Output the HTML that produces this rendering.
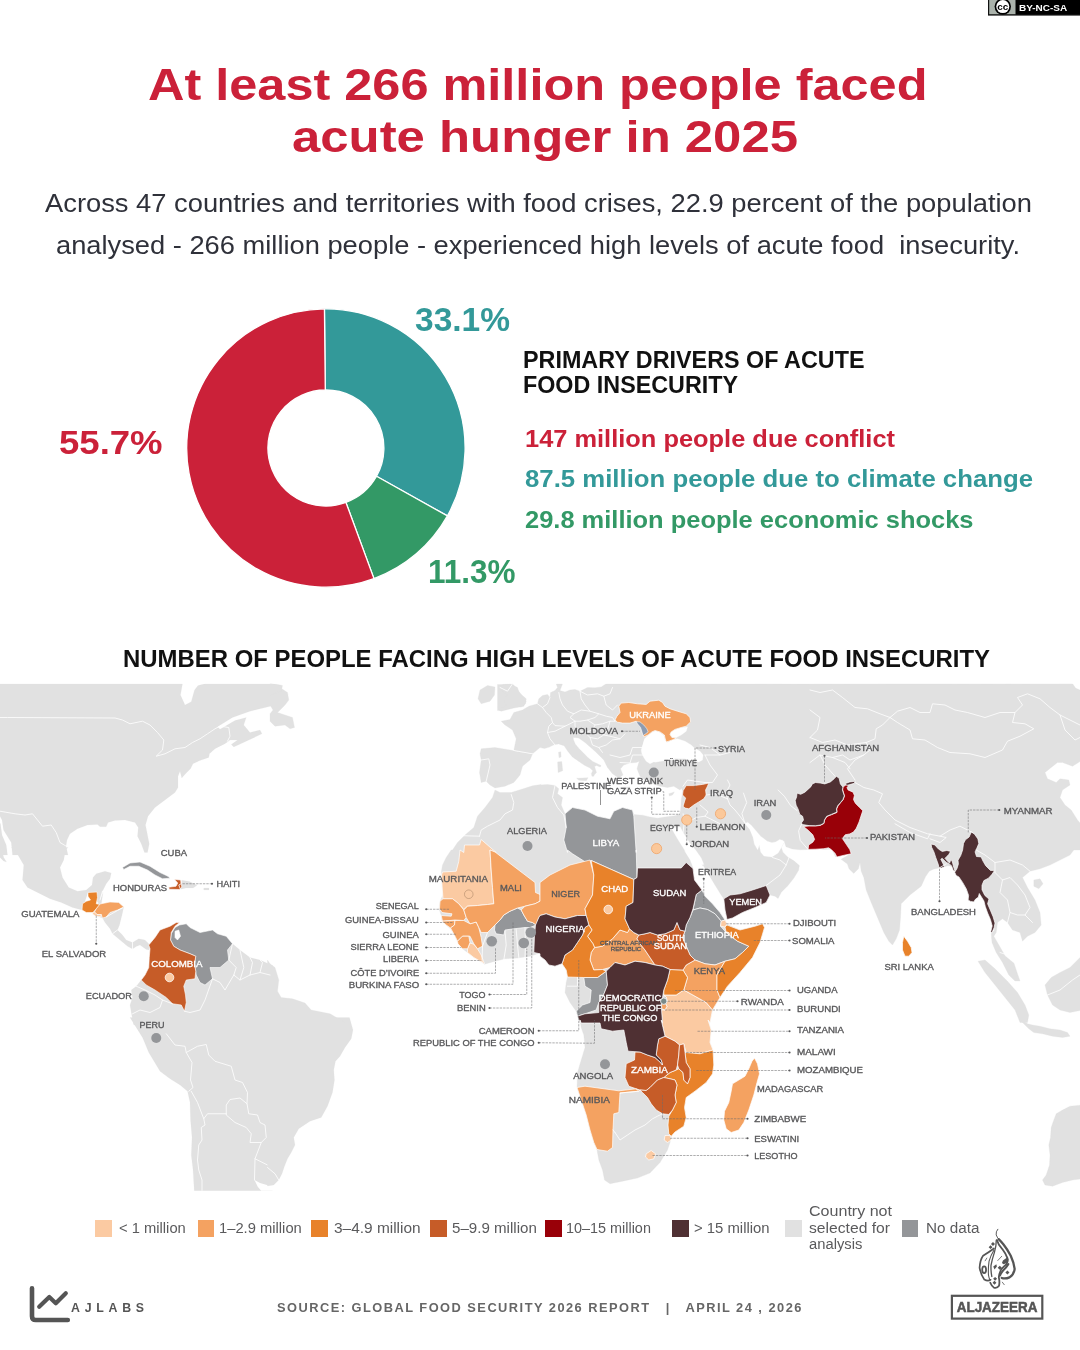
<!DOCTYPE html>
<html lang="en"><head><meta charset="utf-8"><title>At least 266 million people faced acute hunger in 2025</title>
<style>
html,body{margin:0;padding:0;background:#fff}
body{width:1080px;height:1350px;position:relative;overflow:hidden;font-family:"Liberation Sans", sans-serif;-webkit-font-smoothing:antialiased}
#page{position:absolute;left:0;top:0;width:1080px;height:1350px;will-change:transform;transform:translateZ(0)}
.t{position:absolute;white-space:pre;line-height:1;transform-origin:0 0;margin:0}
.sw{position:absolute;top:1220.1px;width:16.6px;height:16.5px}
svg{position:absolute;left:0;top:0}
svg text{font-family:"Liberation Sans", sans-serif}
</style></head><body><div id="page">
<svg width="1080" height="1350" viewBox="0 0 1080 1350">
<defs><clipPath id="mapclip"><rect x="0" y="683.7" width="1080" height="507"/></clipPath></defs>
<style>
.land{fill:#e1e1e1;stroke:#e1e1e1;stroke-width:.6}
.nodata{fill:#949699;stroke:#fff;stroke-width:2.4;stroke-linejoin:round}
.c1{fill:#fbcaa2;stroke:#fff;stroke-width:2.4;stroke-linejoin:round}
.c2{fill:#f4a261;stroke:#fff;stroke-width:2.4;stroke-linejoin:round}
.c3{fill:#e8822a;stroke:#fff;stroke-width:2.4;stroke-linejoin:round}
.c4{fill:#c65c28;stroke:#fff;stroke-width:2.4;stroke-linejoin:round}
.c5{fill:#990008;stroke:#fff;stroke-width:2.4;stroke-linejoin:round}
.c6{fill:#4f3033;stroke:#fff;stroke-width:2.4;stroke-linejoin:round}
.bd{fill:none;stroke:#fff;stroke-width:3.6;stroke-linejoin:round;stroke-linecap:round;opacity:.9}
.sea{fill:#fff;stroke:none}
.landg{fill:#e1e1e1;stroke:#e1e1e1;stroke-width:.3}
.seag{fill:#fff;stroke:#fff;stroke-width:.3}
.nodatag{fill:#949699;stroke:#fff;stroke-width:.7;stroke-linejoin:round}
.c1g{fill:#fbcaa2;stroke:#fff;stroke-width:.7;stroke-linejoin:round}
.c2g{fill:#f4a261;stroke:#fff;stroke-width:.7;stroke-linejoin:round}
.c3g{fill:#e8822a;stroke:#fff;stroke-width:.7;stroke-linejoin:round}
.c4g{fill:#c65c28;stroke:#fff;stroke-width:.7;stroke-linejoin:round}
.c5g{fill:#990008;stroke:#fff;stroke-width:.7;stroke-linejoin:round}
.c6g{fill:#4f3033;stroke:#fff;stroke-width:.7;stroke-linejoin:round}
.moldg{fill:#8d9bb0;stroke:#fff;stroke-width:.5;stroke-linejoin:round}
.bdg{fill:none;stroke:#fff;stroke-width:.9;stroke-linejoin:round;stroke-linecap:round;opacity:.9}
</style>
<g clip-path="url(#mapclip)">
<!-- tile origin (0,1020) scale .25 : South America west -->
<g class="land" transform="translate(0,1020) scale(.25)">
<path d="M520 -10 L545 30 L570 70 L595 130 L625 180 L640 205 L680 235 L720 260 L750 285 L760 330 L762 400 L768 470 L765 540 L772 600 L778 700 L1090 700 L1090 -10Z"/>
</g>
<g class="sea" transform="translate(0,1020) scale(.25)"><path d="M1018 640 L1040 652 L1071 661 L1098 650 L1100 705 L1048 705 L1044 682 L1031 667Z"/></g>
<g class="bd" transform="translate(0,1020) scale(.25)">
<path d="M665 55 L700 100 L740 105 L745 130 L790 105 L825 98 L835 140 L860 165 L925 185 L940 240 L970 250 L990 290 L988 335 L995 375 L1030 380 L1040 410 L1060 420 L1065 470 L1045 490 L1000 490 L1005 455 L985 430 L940 410 L905 380 L905 340 L920 318 L960 312 L988 335"/>
<path d="M745 130 L768 170 L762 240 L772 270 L755 285"/>
<path d="M765 285 L790 330 L815 395 L830 375 L905 375"/>
<path d="M815 395 L820 420 L805 430 L808 480 L795 500 L790 560 L795 600 L808 640 L808 690"/>
<path d="M1045 490 L1020 555 L1018 640"/>
<path d="M1020 555 L1090 590"/>
</g>

<!-- tile origin (0,680) scale .25 : North America -->
<g class="land" transform="translate(0,680) scale(.25)">
<path d="M-10 15 L730 15 L722 60 L740 100 L765 87 L778 40 L792 22 L820 15 L1090 15 L1090 103 L1000 125 L930 150 L870 187 L880 197 L940 162 L985 150 L975 180 L1000 210 L1040 200 L1048 215 L1000 238 L935 268 L925 258 L950 240 L920 240 L900 255 L860 275 L838 295 L835 310 L800 322 L772 335 L762 355 L742 375 L727 392 L720 365 L712 385 L712 430 L700 450 L660 480 L620 510 L592 545 L582 580 L590 620 L597 655 L590 690 L578 690 L565 655 L550 625 L553 590 L540 570 L500 560 L460 562 L432 570 L425 587 L400 587 L390 578 L350 580 L310 595 L280 615 L268 640 L264 665 L272 700 L50 700 L45 650 L14 600 L8 560 L0 545 L-10 545 Z"/>
<path d="M-10 560 L2 575 L8 620 L25 660 L30 700 L-10 700Z"/>
</g>

<!-- tile origin (0,850) scale .25 : Central America / Caribbean / N South America -->
<g class="land" transform="translate(0,850) scale(.25)">
<!-- Baja tip -->
<path d="M-10 -10 L5 -10 L15 30 L26 48 L14 44 L-10 20Z"/>
<!-- Mexico -->
<path d="M45 -10 L272 -10 L262 0 L255 40 L240 70 L250 110 L275 150 L310 165 L345 160 L368 140 L372 110 L385 95 L420 85 L445 92 L440 115 L425 135 L410 165 L400 200 L400 218 L352 170 L328 240 L290 230 L245 210 L200 195 L150 170 L110 150 L90 120 L95 60 L60 0Z"/>
<!-- Belize + rest of central america -->
<path d="M400 200 L412 170 L405 218 L440 208 L475 210 L495 228 L488 260 L478 300 L470 320 L490 340 L505 360 L530 370 L555 355 L580 360 L600 380 L597 400 L585 398 L560 380 L545 386 L530 396 L510 385 L480 360 L450 335 L440 315 L420 290 L410 272 L380 262 L372 250Z"/>
<!-- Dominican Rep -->
<path d="M723 120 L758 126 L788 141 L773 152 L744 152 L719 158 L727 148Z"/>
<path d="M815 152 L836 152 L836 160 L815 160Z"/>
<!-- South America north -->
<path d="M565 520 L545 545 L525 560 L530 590 L520 620 L525 650 L535 700 L1090 700 L1090 462 L1040 440 L1000 430 L960 400 L930 375 L800 400 L700 500Z"/>
</g>
<g class="nodata" transform="translate(0,850) scale(.25)">
<path d="M490 70 L520 52 L560 48 L600 65 L640 90 L672 105 L680 113 L650 115 L620 100 L590 80 L555 65 L520 65 L495 78Z"/>
<path d="M718 300 L745 295 L760 310 L800 330 L850 320 L870 335 L905 345 L930 375 L910 400 L915 440 L880 470 L840 470 L850 515 L820 540 L800 530 L785 500 L783 485 L778 455 L783 425 L760 415 L720 400 L695 385 L682 360 L685 335 L700 310Z M700 325 L715 320 L722 345 L710 360 L700 350Z" fill-rule="evenodd"/>
</g>
<g class="c3" transform="translate(0,850) scale(.25)"><!-- Guatemala 3-4.9 -->
<path d="M352 170 L388 168 L390 190 L385 215 L400 218 L385 235 L372 250 L345 250 L328 240 L330 215 L345 205 L362 200 L352 185Z"/>
</g>
<g class="c2" transform="translate(0,850) scale(.25)"><!-- Honduras 1-2.9 -->
<path d="M400 216 L440 208 L475 210 L495 228 L470 240 L440 250 L425 268 L410 272 L405 258 L388 258 L378 248 L385 235Z"/>
</g>
<g class="c1" transform="translate(0,850) scale(.25)"><!-- El Salvador -->
<path d="M372 250 L378 248 L388 258 L405 258 L402 266 L382 264 L370 256Z"/>
</g>
<g class="c4" transform="translate(0,850) scale(.25)"><!-- Haiti, Colombia 5-9.9 -->
<path d="M698 118 L723 120 L727 148 L719 158 L677 157 L675 149 L704 145 L711 132Z"/>
<path d="M718 290 L700 305 L685 330 L682 360 L695 385 L720 400 L760 415 L783 425 L778 455 L783 485 L780 515 L745 520 L735 545 L742 580 L745 610 L738 645 L725 620 L690 615 L665 590 L620 560 L585 540 L565 520 L580 500 L595 470 L597 430 L600 395 L595 380 L620 350 L640 320 L680 305 L705 290Z"/>
</g>

<!-- tile origin (270,1020) scale .25 : Brazil east coast -->
<g class="land" transform="translate(270,1020) scale(.25)">
<path d="M-10 -10 L318 -10 L332 40 L325 75 L300 110 L280 145 L262 165 L255 200 L258 240 L250 290 L230 345 L205 390 L160 405 L115 435 L95 470 L100 500 L85 530 L70 555 L58 585 L48 615 L35 640 L15 660 L-10 664Z"/>
</g>
<g class="bd" transform="translate(270,1020) scale(.25)">
<path d="M-10 590 L20 615 L35 640"/>
</g>

<g class="landg"><path d="M495.0 790.0 L500.0 792.5 L511.2 792.5 L522.5 789.0 L532.5 785.8 L541.2 784.5 L540.0 785.0 L547.5 784.5 L555.0 785.5 L558.8 788.8 L557.5 793.8 L562.5 797.5 L561.2 805.0 L565.0 813.8 L572.5 807.5 L585.0 810.0 L597.5 816.2 L610.0 818.8 L613.8 811.2 L622.5 807.5 L632.5 810.0 L633.8 814.5 L642.5 815.2 L650.0 817.0 L657.5 818.2 L665.0 817.0 L675.0 815.8 L681.2 814.5 L683.8 823.8 L687.5 835.0 L690.0 845.0 L688.0 852.5 L683.8 850.0 L690.0 860.0 L693.0 868.0 L694.5 880.0 L702.0 890.0 L705.0 896.2 L712.5 903.8 L720.0 912.5 L725.0 920.0 L727.0 924.2 L740.0 930.0 L755.0 926.2 L762.5 923.8 L764.5 927.5 L760.0 942.5 L752.5 957.5 L740.0 972.5 L727.5 986.2 L720.0 997.5 L712.5 1010.0 L710.0 1022.5 L708.0 1020.0 L711.2 1030.0 L710.0 1042.5 L713.0 1050.0 L713.8 1065.0 L712.5 1073.8 L706.2 1082.5 L695.0 1091.2 L686.2 1097.5 L684.5 1107.5 L686.2 1117.5 L683.8 1126.2 L675.0 1132.0 L671.2 1136.2 L670.0 1142.5 L667.5 1150.0 L660.0 1162.5 L650.0 1173.0 L637.5 1178.0 L622.5 1181.2 L610.0 1183.8 L604.5 1180.0 L602.5 1170.0 L598.8 1160.0 L597.0 1150.0 L593.8 1142.5 L590.0 1130.0 L586.2 1115.0 L581.2 1100.0 L577.0 1087.5 L577.5 1072.5 L581.2 1060.0 L585.0 1047.5 L583.8 1035.0 L581.2 1027.5 L580.0 1020.0 L580.0 1022.5 L577.5 1016.2 L576.2 1011.2 L570.0 1002.5 L565.0 992.5 L566.2 982.5 L567.5 977.0 L566.2 970.0 L562.0 963.8 L555.0 966.2 L548.8 965.0 L545.0 960.0 L540.0 956.2 L540.0 953.0 L530.0 956.2 L517.5 958.0 L505.0 958.8 L495.0 961.2 L484.5 964.2 L482.0 962.5 L473.8 957.5 L467.5 952.5 L462.5 948.8 L458.0 943.0 L455.0 936.2 L451.2 929.5 L446.2 925.0 L442.0 921.2 L441.2 915.5 L439.0 908.8 L440.0 901.2 L443.0 895.0 L442.0 885.0 L441.2 872.5 L442.5 865.0 L446.2 857.5 L451.2 850.0 L452.5 850.0 L457.5 842.5 L465.0 835.0 L473.8 827.5 L477.5 816.2 L485.0 807.5 L492.5 797.5Z"/>
<path d="M513.8 750.5 L516.2 738.8 L512.5 730.0 L505.0 725.0 L501.2 721.2 L510.0 719.5 L513.8 712.5 L522.5 710.0 L528.8 706.2 L537.5 703.8 L538.8 698.8 L542.5 695.6 L547.5 694.4 L550.0 697.5 L550.6 692.5 L555.0 690.6 L557.5 687.5 L556.2 683.8 L562.5 683.8 L560.0 690.6 L565.0 691.9 L570.0 690.0 L575.0 689.4 L580.0 691.2 L587.5 687.5 L595.0 687.8 L601.2 686.9 L606.2 683.8 L635.0 683.8 L1072.5 683.5 L1075.5 688.0 L1082.5 691.2 L1082.5 760.0 L1072.5 766.2 L1062.5 762.5 L1057.5 762.5 L1051.2 767.5 L1045.0 772.5 L1047.5 778.8 L1056.2 782.5 L1060.0 778.8 L1068.8 780.0 L1070.0 785.0 L1062.5 790.0 L1060.0 797.5 L1065.0 805.0 L1071.2 810.0 L1077.5 820.0 L1082.5 826.2 L1082.5 850.0 L1073.8 850.0 L1070.0 855.0 L1060.0 860.0 L1050.0 865.0 L1040.0 868.8 L1030.0 871.2 L1022.5 877.5 L1027.5 887.5 L1035.0 900.0 L1040.0 912.5 L1041.2 925.0 L1035.0 932.5 L1027.5 936.2 L1022.5 941.2 L1020.0 932.5 L1012.5 930.0 L1007.5 922.5 L1002.5 918.8 L997.5 922.5 L996.2 932.5 L993.8 936.2 L999.2 945.5 L1005.2 956.0 L1014.0 963.2 L1017.0 972.2 L1020.0 981.0 L1015.0 981.0 L1008.8 975.0 L1002.5 962.5 L996.2 952.5 L992.0 942.5 L991.2 933.8 L994.5 930.0 L992.5 921.2 L988.0 910.0 L983.8 898.8 L980.0 893.8 L975.5 899.0 L973.8 901.8 L970.5 901.5 L968.2 900.0 L968.5 895.2 L966.2 889.0 L962.5 882.5 L959.0 876.8 L957.0 876.0 L955.2 871.8 L953.8 868.0 L951.5 866.2 L947.8 865.8 L944.5 866.8 L939.0 868.0 L934.0 869.0 L929.2 871.2 L925.5 876.8 L921.2 886.2 L910.0 895.0 L901.2 903.8 L900.5 917.5 L899.5 930.0 L896.2 938.8 L892.5 945.0 L888.8 941.2 L883.8 932.5 L877.5 917.5 L871.2 902.5 L866.2 890.0 L863.8 877.5 L861.2 871.2 L860.0 862.4 L858.4 868.7 L853.7 873.4 L849.0 868.7 L847.4 864.0 L841.1 859.3 L850.6 853.8 L841.1 855.3 L835.6 856.9 L831.7 849.0 L823.8 849.5 L815.9 848.6 L808.1 849.5 L800.2 849.8 L792.3 849.0 L786.0 846.7 L784.4 841.9 L781.3 847.5 L782.9 852.2 L787.6 856.9 L793.9 860.8 L799.4 865.6 L798.6 870.3 L793.9 878.1 L787.6 886.0 L781.3 892.3 L778.1 898.6 L775.0 896.2 L770.0 895.0 L766.2 902.5 L755.0 907.5 L742.5 912.5 L732.5 918.0 L727.0 919.5 L725.0 910.0 L723.8 898.8 L721.2 895.0 L715.0 885.0 L707.5 872.5 L700.0 860.0 L692.5 850.0 L703.1 866.2 L700.0 861.2 L693.8 854.4 L687.5 846.2 L684.0 840.0 L683.2 832.5 L682.2 832.5 L681.9 842.5 L680.0 840.0 L675.6 830.0 L673.8 829.4 L677.5 814.4 L679.8 813.8 L680.6 810.0 L681.0 805.0 L681.2 800.0 L682.2 795.0 L682.5 791.2 L681.2 787.5 L692.0 770.0 L650.0 742.0 L600.0 735.0 L584.4 740.2 L579.8 737.9 L573.3 737.4 L573.3 739.3 L575.2 743.9 L578.9 748.5 L583.5 753.1 L588.1 757.8 L592.8 761.5 L597.4 763.8 L601.1 765.6 L600.2 767.0 L596.5 765.6 L594.6 766.6 L595.6 769.8 L596.5 772.6 L594.6 774.4 L593.7 776.3 L591.9 776.3 L591.4 773.5 L592.8 770.7 L590.0 768.0 L584.4 765.2 L578.9 761.5 L572.4 756.9 L567.8 751.3 L564.1 745.7 L558.5 743.9 L553.9 744.8 L549.3 747.1 L544.6 748.5 L540.0 747.6 L532.5 753.8 L522.5 752.5Z"/>
<path d="M481.2 748.8 L495.0 747.5 L510.0 750.0 L522.5 752.5 L532.5 753.8 L530.0 760.0 L522.5 766.2 L520.0 775.0 L513.8 782.5 L505.0 786.2 L495.0 788.0 L490.0 785.0 L486.2 781.2 L481.2 782.5 L479.5 772.5 L481.2 760.0 L480.0 753.8Z"/>
<path d="M576.2 736.2 L585.0 742.5 L595.0 751.2 L603.8 760.0 L607.5 767.5 L612.5 773.8 L618.8 778.0 L623.0 775.0 L620.5 768.8 L623.8 765.0 L630.0 763.0 L636.2 762.5 L641.2 760.5 L643.0 755.0 L642.0 747.5 L645.0 737.5 L630.0 730.0 L605.0 725.0 L580.0 727.5Z"/>
<path d="M638.8 762.5 L637.0 768.8 L640.0 776.2 L645.0 780.0 L652.5 783.8 L660.0 786.2 L667.5 787.5 L673.8 786.2 L680.0 790.0 L683.0 786.2 L685.5 780.0 L687.5 790.0 L717.5 792.5 L717.5 755.0 L705.0 755.0 L700.0 760.0 L685.0 762.5 L670.0 760.0 L655.0 762.5 L642.5 755.0 L640.0 759.5Z"/>
<path d="M500.0 684.4 L512.5 683.8 L517.5 690.0 L521.9 695.0 L526.2 698.8 L525.6 703.8 L521.2 706.9 L515.0 706.2 L507.5 708.1 L500.0 710.6 L497.5 710.6 L497.5 684.4Z"/>
<path d="M501.2 685.0 L510.0 683.8 L517.5 687.5 L520.0 695.0 L526.2 701.2 L523.8 706.2 L513.8 708.0 L501.2 711.2 L498.8 710.0 L506.2 705.0 L503.8 700.0 L507.5 695.0 L502.5 691.2Z"/>
<path d="M480.0 690.0 L487.5 685.5 L495.0 687.0 L494.5 695.0 L490.0 701.2 L481.2 703.8 L478.0 698.8Z"/>
<path d="M270.0 685.0 L280.0 687.5 L287.5 692.5 L288.8 700.0 L285.0 705.0 L277.5 712.5 L285.0 715.0 L292.5 717.5 L294.5 727.5 L290.0 728.8 L285.0 725.0 L275.0 726.2 L270.0 721.2 L270.0 713.8 L273.0 710.0 L270.0 705.0Z"/>
<path d="M270.0 683.0 L282.5 685.5 L281.2 691.2 L270.0 695.0Z"/>
<path d="M558.5 752.2 L560.8 751.8 L561.1 756.9 L559.0 757.8Z"/>
<path d="M557.6 761.9 L561.8 761.5 L562.7 770.7 L558.1 772.6Z"/>
<path d="M576.6 778.3 L588.1 777.7 L586.3 780.7 L578.9 780.2Z"/>
<path d="M620.0 787.5 L630.0 786.9 L630.0 788.8 L620.0 789.0Z"/>
<path d="M668.8 793.8 L674.4 791.9 L672.5 795.0 L669.4 796.0Z"/>
<path d="M1033.8 880.0 L1040.0 878.8 L1043.0 883.8 L1038.8 888.8 L1033.8 886.2Z"/>
<path d="M978.0 961.2 L985.0 960.0 L995.0 968.8 L1007.5 981.2 L1017.5 992.5 L1025.0 1005.0 L1028.8 1015.0 L1027.5 1022.5 L1020.0 1022.5 L1015.0 1010.0 L1005.0 997.5 L995.0 985.0 L985.0 972.5Z"/>
<path d="M1045.0 985.0 L1051.2 977.5 L1060.0 972.5 L1070.0 967.5 L1082.5 955.0 L1082.5 1010.0 L1070.0 1012.5 L1060.0 1010.0 L1052.5 1005.0 L1047.5 995.0Z"/>
<path d="M1020.0 1018.8 L1027.5 1023.8 L1032.5 1025.0 L1040.0 1026.2 L1050.0 1028.8 L1060.0 1030.0 L1067.5 1032.5 L1070.0 1036.2 L1062.5 1037.5 L1052.5 1036.2 L1042.5 1033.8 L1033.8 1032.5 L1028.8 1028.8 L1022.5 1022.5Z"/>
<path d="M1082.5 1105.0 L1070.0 1106.2 L1062.5 1110.0 L1056.2 1113.8 L1053.8 1120.0 L1051.2 1127.5 L1050.5 1137.5 L1048.8 1145.0 L1050.0 1155.0 L1049.5 1165.0 L1046.2 1175.0 L1042.5 1180.0 L1045.0 1185.0 L1052.5 1186.2 L1062.5 1182.5 L1072.5 1180.0 L1082.5 1178.8Z"/>
<path d="M267.5 960.0 L270.0 963.8 L275.0 967.5 L278.8 980.0 L277.5 991.2 L281.2 997.5 L292.5 998.8 L305.0 1003.0 L311.2 1010.0 L330.0 1013.8 L345.0 1022.5 L267.5 1022.5Z"/></g>
<g class="seag"><path d="M641.2 750.0 L643.1 743.8 L644.4 738.8 L648.1 735.6 L652.5 731.9 L655.6 731.0 L660.0 732.5 L663.8 735.6 L665.0 740.0 L666.9 742.5 L672.5 740.0 L677.5 738.8 L685.0 741.2 L691.2 745.0 L694.4 748.1 L700.0 751.2 L703.1 755.0 L702.5 760.0 L698.8 761.9 L691.2 760.6 L685.0 758.8 L677.5 758.8 L670.0 758.1 L662.5 758.8 L655.0 761.2 L650.0 763.8 L646.2 761.2 L643.8 757.5 L641.9 753.8Z"/>
<path d="M745.1 823.8 L749.8 829.4 L753.0 837.2 L754.5 844.3 L757.7 849.8 L759.3 845.1 L760.8 852.2 L764.0 856.1 L771.9 856.9 L778.1 853.0 L781.3 847.5 L784.4 841.9 L782.9 840.4 L779.7 839.6 L775.8 841.9 L771.9 842.7 L767.1 841.2 L760.8 836.4 L756.1 830.9 L751.4 825.4 L747.5 822.3Z"/>
<path d="M670.0 827.0 L673.1 827.5 L676.2 827.5 L680.2 827.0 L683.1 832.5 L689.4 842.5 L695.6 850.0 L701.2 858.1 L703.8 864.4 L693.8 864.4 L688.8 856.2 L683.8 848.8 L677.5 838.8 L672.5 830.0Z"/>
<path d="M671.2 731.9 L675.0 729.8 L681.2 727.8 L687.5 726.9 L686.2 731.2 L681.2 735.0 L676.2 737.5 L672.5 737.2 L670.2 734.4Z"/></g>
<g class="nodatag"><path d="M495.0 925.0 L500.0 920.0 L503.8 915.0 L510.0 911.2 L517.5 908.0 L521.2 910.0 L523.8 915.0 L527.5 921.2 L532.5 922.5 L536.2 925.0 L530.0 927.5 L525.0 927.5 L513.8 928.8 L505.0 930.0 L503.8 935.0 L496.2 933.8 L494.5 930.0Z"/>
<path d="M565.0 813.8 L572.5 807.5 L585.0 810.0 L597.5 816.2 L610.0 818.8 L613.8 811.2 L622.5 807.5 L632.5 810.0 L633.8 816.2 L636.2 852.5 L636.2 850.0 L637.0 877.5 L633.8 879.5 L591.2 860.5 L586.2 862.5 L572.5 853.8 L567.5 850.0 L567.5 852.5 L563.8 840.0 L566.2 827.5Z"/>
<path d="M702.0 890.0 L705.0 896.2 L712.5 903.8 L720.0 912.5 L725.0 920.0 L721.2 921.2 L715.0 913.8 L707.5 909.5 L700.0 908.0 L693.0 910.0 L696.2 894.5Z"/>
<path d="M693.0 910.0 L700.0 908.0 L707.5 909.5 L715.0 913.8 L721.2 921.2 L720.5 926.2 L726.2 932.5 L737.5 941.2 L748.8 946.2 L742.5 952.5 L735.0 958.8 L725.0 961.2 L715.0 965.0 L705.0 963.8 L695.0 960.0 L690.0 955.0 L686.2 946.2 L682.5 937.5 L685.0 931.2 L686.2 925.0 L690.0 917.5Z"/>
<path d="M597.5 977.5 L606.2 971.2 L607.5 985.0 L602.5 997.5 L598.8 1002.5 L596.2 1010.0 L585.0 1013.8 L577.5 1016.2 L576.2 1011.2 L582.5 1005.0 L590.0 1002.5 L591.2 990.0 L585.0 986.2 L583.8 977.5Z"/>
<path d="M662.0 997.5 L666.2 997.0 L667.5 1001.2 L663.8 1003.0 L661.5 1001.2Z"/></g>
<g class="c1g"><path d="M463.8 852.5 L464.5 845.0 L479.5 845.0 L481.2 839.5 L496.2 852.5 L490.0 850.0 L491.2 870.0 L492.5 887.5 L493.8 903.8 L487.5 904.5 L477.5 905.5 L467.5 906.2 L463.8 909.5 L458.8 903.8 L452.5 898.8 L443.0 898.8 L442.0 885.0 L441.5 875.0 L442.5 872.0 L456.2 871.2 L458.8 861.2 L460.0 850.0Z"/>
<path d="M467.5 948.8 L470.0 943.0 L473.8 944.2 L477.5 948.8 L481.2 955.0 L484.5 963.8 L473.8 957.5 L467.5 952.5Z"/>
<path d="M721.2 921.2 L725.0 920.0 L727.0 923.8 L725.0 927.0 L720.5 926.2Z"/>
<path d="M663.8 995.0 L676.2 995.0 L683.8 990.0 L695.0 996.2 L706.2 1002.5 L712.5 1010.0 L710.0 1022.5 L708.0 1020.0 L711.2 1030.0 L710.0 1042.5 L713.0 1050.0 L700.0 1053.8 L686.2 1052.5 L683.8 1043.8 L679.5 1045.0 L675.0 1041.2 L665.0 1036.2 L663.0 1027.5 L661.2 1020.0 L662.5 1022.5 L661.2 1010.0 L665.0 1010.0 L667.0 1006.2 L665.0 1003.0 L667.5 1001.2 L666.2 997.0Z"/>
<path d="M665.0 1135.5 L670.0 1135.5 L671.2 1140.0 L667.5 1142.5 L664.2 1140.0Z"/>
<path d="M646.2 1153.8 L651.2 1150.5 L655.5 1153.8 L653.8 1158.8 L648.8 1160.0 L645.5 1157.0Z"/></g>
<g class="c2g"><path d="M443.0 898.8 L452.5 898.8 L458.8 903.8 L463.8 910.0 L466.2 917.5 L463.8 920.5 L455.0 920.0 L442.5 921.2 L441.2 915.5 L451.2 916.2 L452.0 913.8 L442.0 912.5 L439.5 908.8 L440.0 901.2Z"/>
<path d="M442.0 921.2 L455.0 920.5 L454.5 925.0 L450.5 928.0 L446.2 925.0Z"/>
<path d="M455.0 920.5 L463.8 920.5 L470.0 923.8 L476.2 922.0 L478.8 927.5 L481.2 937.5 L482.5 946.2 L477.5 948.8 L473.8 943.8 L470.0 936.2 L462.5 936.2 L457.5 941.2 L455.0 936.2 L450.5 928.0 L454.5 925.0Z"/>
<path d="M457.5 941.2 L462.5 936.2 L468.8 936.2 L470.0 942.5 L467.5 948.8 L462.5 948.8 L458.0 943.8Z"/>
<path d="M495.0 852.0 L535.0 882.5 L535.5 892.5 L540.0 894.5 L540.0 894.5 L540.0 901.2 L535.0 903.8 L525.0 906.2 L517.5 908.0 L510.0 911.2 L503.8 915.0 L500.0 920.0 L495.0 925.0 L487.5 932.5 L481.2 932.5 L478.8 927.5 L476.2 922.0 L470.0 923.8 L466.2 917.5 L463.8 910.0 L467.5 906.2 L477.5 905.5 L487.5 904.5 L493.8 903.8 L492.5 887.5 L491.2 870.0 L490.0 850.0Z"/>
<path d="M525.0 906.2 L535.0 903.8 L540.0 901.2 L540.0 882.5 L550.0 875.0 L570.0 865.0 L590.0 860.0 L593.8 875.0 L592.5 895.0 L585.0 908.8 L586.2 915.5 L577.5 915.5 L565.0 918.8 L555.0 917.0 L546.2 913.8 L540.0 915.5 L538.8 917.5 L536.2 925.0 L532.5 922.5 L527.5 921.2 L523.8 915.0 L521.2 910.0Z"/>
<path d="M686.2 965.0 L695.0 960.0 L705.0 963.8 L715.0 965.0 L725.0 961.2 L717.0 975.0 L717.0 990.0 L720.0 997.5 L712.5 1010.0 L706.2 1002.5 L695.0 996.2 L683.8 990.0 L687.5 977.5 L683.0 970.0Z"/>
<path d="M594.5 947.5 L602.5 946.2 L612.5 938.8 L620.0 930.0 L627.5 932.5 L629.5 928.8 L633.8 932.5 L638.8 935.0 L637.0 938.8 L640.0 943.8 L645.0 950.0 L650.0 957.5 L655.0 965.0 L645.0 962.5 L635.0 961.2 L625.0 965.0 L615.0 962.5 L610.0 967.5 L602.5 969.5 L593.8 970.0 L590.0 960.0 L591.2 952.5Z"/>
<path d="M661.5 1003.0 L665.0 1003.0 L667.0 1006.2 L665.0 1010.0 L661.8 1008.8Z"/>
<path d="M577.0 1087.5 L585.0 1086.2 L618.8 1090.8 L636.2 1088.8 L640.0 1090.0 L638.8 1091.2 L620.0 1093.0 L618.8 1112.5 L613.8 1113.8 L613.0 1130.0 L612.5 1147.5 L607.5 1151.2 L600.0 1150.0 L597.0 1149.5 L593.8 1142.5 L590.0 1130.0 L586.2 1115.0 L581.2 1100.0Z"/>
<path d="M754.5 1058.0 L757.5 1063.8 L759.5 1073.8 L757.0 1082.5 L753.8 1095.0 L748.8 1110.0 L743.8 1122.5 L738.8 1130.0 L731.2 1132.5 L726.2 1128.8 L723.8 1120.0 L724.5 1111.2 L728.8 1102.5 L731.2 1091.2 L732.5 1083.8 L738.8 1080.0 L745.0 1076.2 L748.8 1068.8 L752.0 1061.2Z"/>
<path d="M615.0 720.0 L616.9 716.2 L620.0 712.5 L618.8 706.2 L621.2 703.1 L628.8 702.5 L637.5 703.8 L646.2 704.4 L650.0 701.2 L658.8 700.2 L662.5 702.5 L665.0 706.2 L670.0 708.8 L677.5 711.2 L686.2 713.8 L690.0 717.5 L690.6 721.9 L686.2 726.2 L681.2 727.5 L675.0 729.4 L671.2 731.9 L670.0 734.4 L671.9 737.5 L676.2 738.1 L673.8 739.4 L668.8 741.2 L666.2 741.9 L665.0 738.1 L664.4 735.0 L660.0 731.9 L655.0 730.6 L651.9 731.9 L648.1 735.0 L643.8 736.9 L642.5 733.1 L641.2 727.5 L637.5 723.1 L636.2 721.2 L630.0 723.1 L622.5 723.1 L617.5 722.2Z"/></g>
<g class="c3g"><path d="M591.2 860.5 L633.8 879.5 L633.0 902.5 L626.2 906.2 L625.0 918.8 L629.5 928.8 L627.5 932.5 L620.0 930.0 L612.5 938.8 L602.5 946.2 L594.5 947.5 L593.0 943.8 L587.5 936.2 L592.0 930.0 L588.8 925.0 L586.2 915.5 L585.0 908.8 L592.5 895.0 L593.8 875.0Z"/>
<path d="M727.0 925.0 L740.0 930.0 L755.0 926.2 L762.5 923.8 L764.5 927.5 L760.0 942.5 L752.5 957.5 L740.0 972.5 L727.5 986.2 L720.0 997.5 L717.0 990.0 L717.0 975.0 L725.0 961.2 L735.0 958.8 L742.5 952.5 L748.8 946.2 L737.5 941.2 L726.2 932.5 L725.0 927.0Z"/>
<path d="M587.5 936.2 L593.0 943.8 L594.5 947.5 L591.2 952.5 L590.0 960.0 L593.8 970.0 L602.5 969.5 L606.2 971.2 L597.5 977.5 L583.8 977.5 L567.5 977.0 L566.2 970.0 L562.0 963.8 L565.0 955.0 L572.5 950.0 L577.5 942.5 L582.5 935.0 L585.0 927.5 L588.8 925.0 L592.0 930.0Z"/>
<path d="M670.0 969.5 L683.0 970.0 L687.5 977.5 L683.8 990.0 L676.2 995.0 L663.8 995.0 L663.8 990.0 L667.5 980.0Z"/>
<path d="M686.2 1052.5 L700.0 1053.8 L713.0 1050.0 L713.8 1065.0 L712.5 1073.8 L706.2 1082.5 L695.0 1091.2 L686.2 1097.5 L684.5 1107.5 L686.2 1117.5 L683.8 1126.2 L675.0 1132.0 L671.2 1136.2 L668.8 1133.8 L668.0 1125.0 L668.8 1116.2 L672.5 1110.0 L676.2 1102.5 L675.0 1095.0 L677.0 1085.0 L675.0 1080.0 L670.0 1078.8 L663.8 1077.5 L670.0 1072.5 L676.2 1070.0 L678.8 1068.8 L683.0 1072.5 L683.8 1080.0 L687.5 1083.8 L690.0 1077.5 L690.0 1068.8 L686.2 1062.5 L685.0 1052.5Z"/>
<path d="M903.8 936.2 L907.5 941.2 L911.2 947.5 L912.0 952.5 L908.8 956.2 L905.0 956.2 L902.5 950.0 L902.5 942.5Z"/></g>
<g class="c4g"><path d="M638.8 935.0 L645.0 933.8 L650.0 932.5 L657.5 935.0 L665.0 933.8 L673.8 930.0 L677.0 922.5 L680.0 930.0 L685.0 931.2 L682.5 937.5 L686.2 946.2 L690.0 955.0 L695.0 960.0 L686.2 965.0 L683.0 970.0 L670.0 969.5 L662.5 966.2 L655.0 965.0 L650.0 957.5 L645.0 950.0 L640.0 943.8 L637.0 938.8Z"/>
<path d="M635.0 1052.0 L640.0 1052.0 L647.5 1055.0 L655.0 1057.5 L660.0 1062.0 L662.5 1065.0 L661.2 1060.0 L656.2 1055.0 L657.5 1045.0 L658.8 1038.8 L665.0 1036.2 L675.0 1041.2 L679.5 1045.0 L678.8 1055.0 L677.5 1065.0 L676.2 1070.0 L670.0 1072.5 L663.8 1077.5 L657.5 1080.0 L650.0 1087.5 L646.2 1090.5 L640.0 1090.0 L636.2 1088.8 L628.8 1086.2 L625.0 1077.5 L626.2 1063.8 L634.5 1060.0Z"/>
<path d="M679.5 1045.0 L683.8 1043.8 L685.0 1052.5 L686.2 1062.5 L690.0 1068.8 L690.0 1077.5 L687.5 1083.8 L683.8 1080.0 L683.0 1072.5 L678.8 1068.8 L677.5 1065.0 L678.8 1055.0Z"/>
<path d="M646.2 1090.5 L650.0 1087.5 L657.5 1080.0 L663.8 1077.5 L670.0 1078.8 L675.0 1080.0 L677.0 1085.0 L675.0 1095.0 L676.2 1102.5 L672.5 1110.0 L668.8 1114.5 L662.5 1113.8 L656.2 1110.0 L651.2 1103.8 L647.5 1097.5 L642.5 1092.5 L640.0 1090.0Z"/>
<path d="M683.1 790.6 L686.2 785.6 L693.8 785.6 L702.5 784.4 L708.8 783.1 L707.5 786.2 L705.6 790.0 L706.2 795.0 L703.8 798.8 L698.8 801.9 L693.8 805.0 L688.8 808.8 L685.0 808.1 L683.1 806.2 L684.4 801.9 L685.6 798.1 L682.5 795.0Z"/></g>
<g class="c5g"><path d="M842.9 787.1 L846.1 784.8 L848.9 785.3 L847.0 787.6 L848.0 789.9 L853.1 792.2 L854.4 795.5 L853.5 799.6 L855.4 803.3 L859.1 807.0 L862.8 810.7 L860.9 816.3 L859.1 821.9 L856.3 828.3 L853.5 832.0 L849.8 833.9 L845.2 834.8 L842.4 838.5 L846.1 844.1 L849.8 849.6 L851.2 853.8 L844.3 855.2 L836.9 857.0 L835.0 853.3 L831.3 849.6 L828.5 847.8 L823.9 848.7 L815.6 849.2 L808.1 849.4 L808.6 845.0 L812.8 842.2 L814.6 839.4 L812.8 834.8 L808.1 830.2 L803.5 826.5 L809.1 826.0 L815.6 826.0 L820.2 825.4 L823.9 823.5 L824.6 820.0 L826.9 816.5 L831.5 814.7 L837.0 812.4 L836.7 808.9 L838.0 805.9 L840.7 802.6 L843.1 799.8 L844.5 795.9 L842.7 789.9Z"/></g>
<g class="c6g"><path d="M538.8 917.5 L535.5 925.0 L534.5 935.0 L533.8 952.5 L540.0 953.8 L540.0 956.2 L545.0 960.0 L548.8 965.0 L555.0 966.2 L562.0 963.8 L565.0 955.0 L572.5 950.0 L577.5 942.5 L582.5 935.0 L585.0 927.5 L588.8 925.0 L586.2 915.5 L577.5 915.5 L565.0 918.8 L555.0 917.0 L546.2 913.8 L540.0 915.5Z"/>
<path d="M637.5 868.0 L677.0 868.0 L681.2 868.0 L686.2 862.5 L693.0 868.5 L694.5 880.0 L702.0 890.0 L696.2 894.5 L693.0 908.8 L690.0 917.5 L686.2 925.0 L685.0 931.2 L680.0 930.0 L677.0 922.5 L673.8 930.0 L665.0 933.8 L657.5 935.0 L650.0 932.5 L645.0 933.8 L638.8 935.0 L633.8 932.5 L629.5 928.8 L625.0 918.8 L626.2 906.2 L633.0 902.5 L633.8 879.5 L637.0 877.5Z"/>
<path d="M610.0 967.5 L615.0 962.5 L625.0 965.0 L635.0 961.2 L645.0 962.5 L655.0 965.0 L662.5 966.2 L670.0 969.5 L667.5 980.0 L663.8 990.0 L662.5 997.5 L661.2 1005.0 L662.5 1022.5 L661.2 1020.0 L663.0 1027.5 L665.0 1036.2 L658.8 1038.8 L657.5 1045.0 L656.2 1055.0 L661.2 1060.0 L662.5 1065.0 L660.0 1062.0 L655.0 1057.5 L647.5 1055.0 L640.0 1052.0 L628.0 1051.2 L626.2 1042.5 L623.8 1030.0 L612.5 1031.2 L601.2 1028.8 L600.0 1023.0 L581.2 1023.0 L580.0 1020.0 L580.0 1022.5 L577.5 1016.2 L585.0 1013.8 L598.8 1012.5 L598.8 1002.5 L602.5 997.5 L607.5 985.0 L606.2 971.2Z"/>
<path d="M723.8 898.8 L730.0 895.0 L740.0 893.8 L752.5 890.0 L766.2 885.5 L770.0 895.0 L766.2 902.5 L755.0 907.5 L742.5 912.5 L732.5 918.0 L727.0 919.5 L725.0 910.0Z"/>
<path d="M797.0 793.1 L800.7 794.3 L804.9 792.2 L810.9 786.7 L812.3 783.9 L815.6 782.5 L820.2 783.0 L824.8 783.9 L830.4 781.9 L834.1 778.8 L836.4 776.3 L839.2 778.3 L840.4 783.9 L842.9 787.1 L842.4 789.9 L844.3 795.9 L842.9 799.6 L840.6 802.4 L837.8 805.6 L836.4 808.9 L836.9 812.1 L831.3 814.4 L826.7 816.3 L824.4 820.0 L823.9 823.2 L820.2 825.1 L815.6 825.7 L809.1 825.6 L802.6 824.6 L801.2 823.2 L803.5 820.0 L802.6 816.3 L799.8 814.4 L798.0 808.9 L796.1 805.2 L795.2 800.6 L796.6 796.9Z"/>
<path d="M845.4 783.5 L849.8 781.9 L855.2 781.3 L854.3 783.3 L849.8 784.6 L846.7 785.4Z"/>
<path d="M931.1 844.0 L934.8 844.9 L938.5 849.1 L942.2 851.4 L946.9 850.5 L950.6 851.4 L948.7 854.6 L946.4 856.9 L945.0 858.3 L947.8 861.6 L949.6 863.0 L951.0 859.3 L952.4 862.0 L953.8 867.6 L955.2 871.3 L953.3 870.4 L951.5 865.7 L949.2 863.9 L945.9 862.0 L942.2 858.3 L940.8 859.3 L942.7 863.0 L944.5 866.7 L941.3 868.1 L939.0 867.6 L938.1 863.9 L935.7 857.4 L933.9 851.9 L931.6 847.2Z"/>
<path d="M971.4 831.9 L974.6 834.3 L977.9 838.9 L978.8 843.5 L976.9 848.1 L975.1 851.9 L976.5 856.5 L981.1 856.9 L983.0 861.1 L985.7 865.7 L990.4 870.4 L994.5 870.4 L992.2 874.1 L988.5 878.2 L983.9 880.6 L982.0 885.2 L982.0 889.8 L984.8 895.4 L989.0 899.1 L987.6 903.7 L990.4 910.2 L993.1 916.7 L995.0 923.1 L994.1 927.8 L991.8 932.9 L990.8 931.5 L992.2 925.9 L990.4 919.4 L987.6 913.0 L985.3 906.5 L983.9 900.9 L979.3 893.5 L978.3 897.2 L975.6 899.1 L973.7 901.9 L970.5 901.4 L968.1 900.0 L968.6 895.4 L966.3 888.9 L962.6 882.4 L958.9 876.9 L956.1 875.5 L954.7 872.2 L957.0 868.5 L958.4 863.9 L958.0 860.2 L960.7 855.6 L962.6 850.0 L963.5 843.5 L965.4 839.8 L969.1 837.0Z"/></g>
<g class="moldg"><path d="M636.2 721.5 L640.0 721.9 L643.8 725.0 L646.9 728.8 L648.1 731.9 L645.6 733.8 L643.1 735.6 L642.2 732.5 L640.6 727.5 L637.5 723.8Z"/></g>
<g class="bdg"><path d="M0.0 717.5 L7.5 717.5 L115.0 718.0 L122.5 720.0 L130.0 723.8 L142.5 721.2 L150.0 725.0 L157.5 732.5 L163.8 740.0 L162.5 750.0 L156.2 756.2 L165.0 753.8 L175.0 748.8 L185.0 747.5 L192.5 742.5 L200.0 738.8 L207.5 733.8 L215.0 728.8 L220.0 726.2 L228.8 727.5 L230.0 736.2 L227.5 741.2"/>
<path d="M0.0 811.2 L15.0 813.8 L25.0 815.0 L32.5 813.8 L37.5 820.0 L42.5 826.2 L51.2 825.0 L56.2 832.5 L60.0 842.5 L66.2 846.2"/>
<path d="M102.5 891.2 L100.0 900.0"/>
<path d="M106.2 917.0 L117.5 910.5 L122.5 908.0"/>
<path d="M117.5 930.0 L112.5 933.8"/>
<path d="M132.5 942.5 L132.5 949.0"/>
<path d="M181.2 880.0 L181.2 883.8 L178.8 885.0 L180.5 889.5"/>
<path d="M232.5 943.8 L228.8 960.0 L236.2 967.5 L233.8 975.0 L240.0 980.0 L250.0 975.0 L260.0 972.5 L270.0 975.0"/>
<path d="M212.5 978.8 L220.0 982.5 L225.0 990.0 L233.8 975.0"/>
<path d="M240.0 980.0 L243.8 967.5 L240.0 950.0"/>
<path d="M250.0 975.0 L252.5 962.5 L250.0 957.5"/>
<path d="M260.0 972.5 L262.5 962.5 L260.0 960.0"/>
<path d="M136.2 986.2 L145.0 990.0 L155.0 995.0 L162.5 1000.0 L160.0 1007.5 L150.0 1012.5 L140.0 1010.0 L132.5 1013.8"/>
<path d="M184.5 1011.2 L190.0 1012.5 L200.0 1010.0 L205.0 1000.0 L212.5 978.8"/>
<path d="M162.5 1000.0 L172.5 1003.8"/>
<path d="M537.5 703.8 L542.5 707.5 L546.2 712.5 L551.2 717.5 L552.5 722.5 L548.8 726.2 L547.5 732.5 L550.0 738.8 L555.0 745.0"/>
<path d="M558.8 692.5 L560.0 698.8 L562.5 705.0 L567.5 711.2 L573.8 713.8 L570.0 717.5 L575.0 721.2"/>
<path d="M573.8 713.8 L581.2 710.0 L590.0 711.2 L598.8 713.8 L595.0 717.5 L587.5 720.0 L580.0 721.2 L575.0 721.2 L570.0 723.8 L565.0 726.2 L555.0 725.6 L552.5 722.5"/>
<path d="M580.0 691.2 L581.2 698.8 L585.0 705.0 L590.0 711.2"/>
<path d="M598.8 713.8 L606.2 716.2 L612.5 717.5 L615.0 721.2"/>
<path d="M587.5 720.0 L595.0 725.0 L602.5 723.8 L610.0 721.2 L615.0 721.2"/>
<path d="M595.0 725.0 L592.5 730.0 L585.0 732.5 L577.5 730.0 L575.0 726.2 L575.0 721.2"/>
<path d="M585.0 732.5 L590.0 737.5 L597.5 738.8 L603.8 735.0 L607.5 730.0 L610.0 721.2"/>
<path d="M542.5 707.5 L547.5 703.8 L550.0 697.5"/>
<path d="M547.5 732.5 L555.0 731.2 L565.0 726.2"/>
<path d="M590.0 737.5 L592.5 745.0 L598.8 747.5 L602.5 752.5"/>
<path d="M598.8 747.5 L606.2 745.0 L612.5 740.0 L620.0 738.8 L625.0 733.8"/>
<path d="M603.8 735.0 L610.0 736.2 L620.0 738.8"/>
<path d="M580.0 691.2 L587.5 695.0 L597.5 693.8 L603.8 696.2 L610.0 693.8 L612.5 687.5"/>
<path d="M603.8 696.2 L606.2 705.0 L612.5 710.0 L617.5 705.0"/>
<path d="M513.8 750.5 L532.5 753.8"/>
<path d="M481.2 760.0 L488.8 758.8 L490.0 765.0 L486.2 781.2"/>
<path d="M500.0 687.5 L507.5 691.2 L512.5 683.8"/>
<path d="M620.0 762.5 L630.0 763.0"/>
<path d="M630.0 763.0 L632.5 755.0 L642.5 755.0"/>
<path d="M610.0 755.0 L620.0 757.5 L630.0 755.0 L632.5 747.5 L642.5 747.5"/>
<path d="M683.0 786.2 L687.5 780.0 L705.0 782.5"/>
<path d="M705.0 755.0 L710.0 765.0 L717.5 775.0 L712.5 782.5 L705.0 782.5"/>
<path d="M700.0 745.0 L710.0 747.5 L720.0 755.0 L730.0 752.5"/>
<path d="M705.0 755.0 L720.0 755.0"/>
<path d="M727.5 798.8 L730.0 805.0 L735.0 810.0 L740.0 816.2 L745.0 823.1"/>
<path d="M705.0 816.2 L715.0 821.2 L727.5 827.5 L738.8 828.8 L745.0 823.1"/>
<path d="M690.0 821.2 L696.2 817.5 L705.0 816.2 L708.1 811.9 L700.0 805.0"/>
<path d="M683.1 813.8 L684.4 821.2 L683.1 832.5"/>
<path d="M727.5 798.8 L726.2 792.5 L730.0 785.0 L727.5 780.0"/>
<path d="M706.2 795.0 L715.0 793.8 L727.5 798.8"/>
<path d="M766.2 885.5 L780.0 875.0 L786.2 865.0 L780.0 860.0 L772.5 857.5"/>
<path d="M786.2 865.0 L790.0 855.0"/>
<path d="M745.1 823.8 L741.9 813.6 L746.7 802.6 L743.5 793.1"/>
<path d="M797.0 810.5 L790.7 805.7 L784.4 796.3 L778.1 790.0"/>
<path d="M801.8 823.8 L798.6 830.9 L800.2 840.4 L808.1 849.5"/>
<path d="M555.0 785.5 L552.5 797.5 L557.5 807.5 L563.8 815.0 L566.2 827.5"/>
<path d="M511.2 794.5 L513.8 802.5 L512.5 810.0 L505.0 813.8 L500.0 820.0 L487.5 826.2 L481.2 830.0 L479.5 836.2"/>
<path d="M456.2 835.5 L479.5 836.2"/>
<path d="M505.0 931.2 L506.2 945.0 L503.8 960.0"/>
<path d="M516.2 929.5 L517.5 945.0 L518.8 957.5"/>
<path d="M525.0 928.0 L525.5 945.0 L525.0 956.8"/>
<path d="M482.5 946.2 L487.5 932.5"/>
<path d="M482.0 962.5 L482.5 946.2"/>
<path d="M567.5 986.2 L577.5 986.2 L577.5 977.5"/>
<path d="M615.0 1132.5 L620.0 1140.0 L627.5 1135.0 L635.0 1130.0 L645.0 1125.0 L652.5 1118.8 L657.5 1116.2 L662.5 1113.8"/>
<path d="M613.0 1130.0 L615.0 1132.5"/>
<path d="M636.2 1088.8 L638.8 1091.2 L620.0 1093.0"/>
<path d="M810.0 690.0 L820.0 692.5 L832.5 690.0 L842.5 697.5 L855.0 707.5 L867.5 708.8 L880.0 713.8 L890.0 717.5 L897.5 711.2 L910.0 707.5 L920.0 712.5 L930.0 712.5 L932.5 703.8 L945.0 705.0 L955.0 710.0 L967.5 712.5 L985.0 717.5 L1000.0 712.5 L1015.0 712.5 L1022.5 705.0 L1017.5 697.5 L1027.5 693.8 L1040.0 698.8 L1050.0 707.5 L1060.0 715.0 L1070.0 720.0 L1080.0 725.0"/>
<path d="M890.0 717.5 L897.5 722.5 L910.0 730.0 L912.5 738.8 L925.0 740.0 L937.5 747.5 L950.0 752.5 L970.0 753.8 L985.0 757.5 L1002.5 750.0 L1007.5 741.2 L1020.0 736.2 L1033.8 728.8 L1025.0 723.8 L1012.5 722.5 L1015.0 712.5"/>
<path d="M890.0 717.5 L882.5 725.0 L876.2 728.8 L875.0 738.8 L866.2 742.5 L870.0 750.0 L863.8 755.0 L855.0 760.0 L847.5 768.8 L855.0 780.0"/>
<path d="M855.0 782.5 L863.8 787.5 L873.8 790.0 L882.5 793.8 L878.8 802.5 L885.0 810.0 L895.0 820.0 L910.0 827.5 L927.5 833.8 L940.0 836.2 L950.0 830.0 L960.0 826.2 L967.5 830.0 L972.5 832.5"/>
<path d="M895.0 823.8 L910.0 832.5 L927.5 838.8 L930.0 833.8"/>
<path d="M930.0 838.8 L940.0 842.5 L946.2 837.5 L940.0 836.2"/>
<path d="M810.0 762.5 L820.0 755.0 L832.5 757.5 L845.0 762.5 L850.0 768.8"/>
<path d="M810.0 737.5 L822.5 742.5 L835.0 740.0 L847.5 745.0 L866.2 742.5"/>
<path d="M820.0 755.0 L825.0 765.0 L835.0 776.2"/>
<path d="M832.5 757.5 L842.5 755.0 L850.0 760.0 L863.8 755.0"/>
<path d="M810.0 710.0 L820.0 717.5 L817.5 730.0 L810.0 737.5"/>
<path d="M1060.0 715.0 L1065.0 730.0 L1075.0 740.0 L1080.0 737.5"/>
<path d="M995.0 872.5 L1002.5 880.0 L1010.0 877.5 L1017.5 885.0 L1025.0 895.0 L1030.0 907.5 L1025.0 915.0 L1032.5 922.5"/>
<path d="M1002.5 880.0 L1000.0 892.5 L1007.5 900.0 L1010.0 912.5 L1017.5 915.0 L1025.0 915.0"/>
<path d="M1010.0 912.5 L1007.5 922.5"/>
<path d="M976.2 850.0 L985.0 855.0 L995.0 862.5 L995.0 872.5"/>
<path d="M1000.0 952.5 L1007.5 955.0"/>
<path d="M1047.5 995.0 L1060.0 990.0 L1072.5 980.0 L1080.0 975.0"/>
<path d="M995.0 862.5 L1010.0 860.0 L1022.5 865.0 L1030.0 871.2"/>
<path d="M940.0 867.5 L946.2 863.8"/></g>
</g>
<g>
<circle cx="169.5" cy="977.5" r="4.3" fill="#fbcaa2" stroke="#fff" stroke-width="0.8"/>
<circle cx="143.75" cy="996.25" r="5" fill="#949699"/>
<circle cx="156.25" cy="1038" r="5" fill="#949699"/>
<circle cx="491.75" cy="941.25" r="5.3" fill="#949699"/>
<circle cx="523.75" cy="943" r="5.3" fill="#949699"/>
<circle cx="530.75" cy="932.5" r="5.3" fill="#949699"/>
<circle cx="608.25" cy="909.5" r="4.3" fill="#fbcaa2" stroke="#fff" stroke-width="0.8"/>
<circle cx="605" cy="1064.25" r="5" fill="#949699"/>
<circle cx="653.75" cy="772.5" r="5" fill="#949699"/>
<circle cx="720.5" cy="813.75" r="5.1" fill="#fbc89a" stroke="#f0a468" stroke-width="0.8"/>
<circle cx="766.25" cy="815" r="5" fill="#949699"/>
<circle cx="656.6" cy="848.6" r="5.1" fill="#fbc89a" stroke="#f0a468" stroke-width="0.8"/>
<circle cx="686.75" cy="820" r="5.1" fill="#fbc89a" stroke="#f0a468" stroke-width="0.8"/>
<circle cx="527.5" cy="846" r="5" fill="#949699"/>
<circle cx="663.7" cy="1001.2" r="3.2" fill="#7a8a88" stroke="#fff" stroke-width="0.8"/>
<circle cx="468.75" cy="894.25" r="4.3" fill="none" stroke="#b08a6a" stroke-width="0.6"/>
</g>
<g fill="none" stroke="#6a6a6c" stroke-width="0.55" stroke-dasharray="2.4 1">
<path d="M182.5 883.75 L212 883.75"/>
<path d="M96.25 915.5 L96.25 943.75"/>
<path d="M426.25 909.25 L450 909.25"/>
<path d="M426.25 922.5 L452.5 922.5"/>
<path d="M426.25 934.25 L456.25 934.25"/>
<path d="M426.25 947.5 L461.25 947.5"/>
<path d="M426.25 960.5 L481.25 960.5"/>
<path d="M426.25 973.25 L495.5 973.25 L495.5 947.5"/>
<path d="M426.25 984.25 L513 984.25 L513 922.5"/>
<path d="M489.5 994.5 L526.75 994.5 L526.75 948.75"/>
<path d="M489.5 1008 L531.75 1008 L531.75 937.5"/>
<path d="M538.75 1030.75 L578.75 1030.75 L578.75 960"/>
<path d="M538.75 1042.75 L594.5 1043.25 L594.5 1020"/>
<path d="M703.75 878.75 L703.75 903.75"/>
<path d="M726.25 923.75 L789.5 923.75"/>
<path d="M753.75 940.5 L789.5 940.5"/>
<path d="M675 990.5 L789.5 990.5"/>
<path d="M667.5 1001.25 L737.5 1001.25"/>
<path d="M665 1010 L789.5 1010"/>
<path d="M697.5 1031.25 L789.5 1031.25"/>
<path d="M686.25 1052.5 L789.5 1052.5"/>
<path d="M696.25 1070.5 L789.5 1070.5"/>
<path d="M662.5 1095 L662.5 1118.75 L747.5 1118.75"/>
<path d="M670 1138.25 L747.5 1138.25"/>
<path d="M652.5 1155.5 L747.5 1155.5"/>
<path d="M622 731.25 L640 731.25"/>
<path d="M715.5 748 L695 748 L695 790"/>
<path d="M662.5 791.75 L663.75 791.75 L663.75 811.25 L680 811.25"/>
<path d="M651.75 797.5 L651.75 814.25 L680 814.25"/>
<path d="M696.75 826.75 L696.75 807.5"/>
<path d="M686.75 844.25 L686.75 825"/>
<path d="M824.5 755.75 L824.5 782.5"/>
<path d="M867 838 L825 838"/>
<path d="M999.25 810 L968.25 810 L968.25 832.5"/>
<path d="M939.5 868.75 L939.5 901.25"/>
<path d="M600.5 790 V805" stroke-dasharray="none" stroke="#777" stroke-width="0.8"/>
</g><g fill="#58585a">
<circle cx="212" cy="883.75" r="1.1"/>
<circle cx="96.25" cy="943.75" r="1.1"/>
<circle cx="426.25" cy="909.25" r="1.1"/>
<circle cx="426.25" cy="922.5" r="1.1"/>
<circle cx="426.25" cy="934.25" r="1.1"/>
<circle cx="426.25" cy="947.5" r="1.1"/>
<circle cx="426.25" cy="960.5" r="1.1"/>
<circle cx="426.25" cy="973.25" r="1.1"/>
<circle cx="426.25" cy="984.25" r="1.1"/>
<circle cx="489.5" cy="994.5" r="1.1"/>
<circle cx="489.5" cy="1008" r="1.1"/>
<circle cx="538.75" cy="1030.75" r="1.1"/>
<circle cx="538.75" cy="1042.75" r="1.1"/>
<circle cx="703.75" cy="878.75" r="1.1"/>
<circle cx="789.5" cy="923.75" r="1.1"/>
<circle cx="789.5" cy="940.5" r="1.1"/>
<circle cx="789.5" cy="990.5" r="1.1"/>
<circle cx="737.5" cy="1001.25" r="1.1"/>
<circle cx="789.5" cy="1010" r="1.1"/>
<circle cx="789.5" cy="1031.25" r="1.1"/>
<circle cx="789.5" cy="1052.5" r="1.1"/>
<circle cx="789.5" cy="1070.5" r="1.1"/>
<circle cx="747.5" cy="1118.75" r="1.1"/>
<circle cx="747.5" cy="1138.25" r="1.1"/>
<circle cx="747.5" cy="1155.5" r="1.1"/>
<circle cx="622" cy="731.25" r="1.1"/>
<circle cx="715.5" cy="748" r="1.1"/>
<circle cx="651.75" cy="797.5" r="1.1"/>
<circle cx="696.75" cy="826.75" r="1.1"/>
<circle cx="686.75" cy="844.25" r="1.1"/>
<circle cx="824.5" cy="755.75" r="1.1"/>
<circle cx="867" cy="838" r="1.1"/>
<circle cx="999.25" cy="810" r="1.1"/>
<circle cx="939.5" cy="901.25" r="1.1"/>
</g>
<g font-weight="400" stroke-width="0.32" stroke-linejoin="round">
<text x="160.75" y="855.53" font-size="8.8" fill="#58585a" stroke="#58585a" textLength="26.25" lengthAdjust="spacingAndGlyphs">CUBA</text>
<text x="113" y="891.03" font-size="8.8" fill="#58585a" stroke="#58585a" textLength="54.00" lengthAdjust="spacingAndGlyphs">HONDURAS</text>
<text x="216.5" y="886.78" font-size="8.8" fill="#58585a" stroke="#58585a" textLength="23.50" lengthAdjust="spacingAndGlyphs">HAITI</text>
<text x="21.25" y="917.03" font-size="8.8" fill="#58585a" stroke="#58585a" textLength="58.25" lengthAdjust="spacingAndGlyphs">GUATEMALA</text>
<text x="41.75" y="956.78" font-size="8.8" fill="#58585a" stroke="#58585a" textLength="64.50" lengthAdjust="spacingAndGlyphs">EL SALVADOR</text>
<text x="151.25" y="967.28" font-size="8.8" fill="#fff" stroke="#fff" textLength="51.25" lengthAdjust="spacingAndGlyphs">COLOMBIA</text>
<text x="85.75" y="998.78" font-size="8.8" fill="#58585a" stroke="#58585a" textLength="46.25" lengthAdjust="spacingAndGlyphs">ECUADOR</text>
<text x="139.5" y="1028.03" font-size="8.8" fill="#58585a" stroke="#58585a" textLength="25.00" lengthAdjust="spacingAndGlyphs">PERU</text>
<text x="428.75" y="881.78" font-size="8.8" fill="#58585a" stroke="#58585a" textLength="59.25" lengthAdjust="spacingAndGlyphs">MAURITANIA</text>
<text x="500" y="891.03" font-size="8.8" fill="#58585a" stroke="#58585a" textLength="22.00" lengthAdjust="spacingAndGlyphs">MALI</text>
<text x="375.75" y="909.03" font-size="8.8" fill="#58585a" stroke="#58585a" textLength="43.00" lengthAdjust="spacingAndGlyphs">SENEGAL</text>
<text x="345" y="923.03" font-size="8.8" fill="#58585a" stroke="#58585a" textLength="73.75" lengthAdjust="spacingAndGlyphs">GUINEA-BISSAU</text>
<text x="382.5" y="938.03" font-size="8.8" fill="#58585a" stroke="#58585a" textLength="36.25" lengthAdjust="spacingAndGlyphs">GUINEA</text>
<text x="350.5" y="949.78" font-size="8.8" fill="#58585a" stroke="#58585a" textLength="68.25" lengthAdjust="spacingAndGlyphs">SIERRA LEONE</text>
<text x="383" y="962.28" font-size="8.8" fill="#58585a" stroke="#58585a" textLength="35.75" lengthAdjust="spacingAndGlyphs">LIBERIA</text>
<text x="350.5" y="976.03" font-size="8.8" fill="#58585a" stroke="#58585a" textLength="68.75" lengthAdjust="spacingAndGlyphs">CÔTE D’IVOIRE</text>
<text x="348.75" y="988.03" font-size="8.8" fill="#58585a" stroke="#58585a" textLength="70.50" lengthAdjust="spacingAndGlyphs">BURKINA FASO</text>
<text x="459.25" y="997.53" font-size="8.8" fill="#58585a" stroke="#58585a" textLength="26.25" lengthAdjust="spacingAndGlyphs">TOGO</text>
<text x="457" y="1011.03" font-size="8.8" fill="#58585a" stroke="#58585a" textLength="28.75" lengthAdjust="spacingAndGlyphs">BENIN</text>
<text x="478.75" y="1033.78" font-size="8.8" fill="#58585a" stroke="#58585a" textLength="55.75" lengthAdjust="spacingAndGlyphs">CAMEROON</text>
<text x="413" y="1045.78" font-size="8.8" fill="#58585a" stroke="#58585a" textLength="121.50" lengthAdjust="spacingAndGlyphs">REPUBLIC OF THE CONGO</text>
<text x="551.25" y="897.28" font-size="8.8" fill="#58585a" stroke="#58585a" textLength="28.75" lengthAdjust="spacingAndGlyphs">NIGER</text>
<text x="601.25" y="891.78" font-size="8.8" fill="#fff" stroke="#fff" textLength="27.00" lengthAdjust="spacingAndGlyphs">CHAD</text>
<text x="653" y="896.03" font-size="8.8" fill="#fff" stroke="#fff" textLength="33.25" lengthAdjust="spacingAndGlyphs">SUDAN</text>
<text x="698" y="875.03" font-size="8.8" fill="#58585a" stroke="#58585a" textLength="38.25" lengthAdjust="spacingAndGlyphs">ERITREA</text>
<text x="729.25" y="905.03" font-size="8.8" fill="#fff" stroke="#fff" textLength="32.75" lengthAdjust="spacingAndGlyphs">YEMEN</text>
<text x="545.5" y="932.28" font-size="8.8" fill="#fff" stroke="#fff" textLength="39.00" lengthAdjust="spacingAndGlyphs">NIGERIA</text>
<text x="600" y="945.13" font-size="6.2" fill="#58585a" stroke="#58585a" textLength="57.50" lengthAdjust="spacingAndGlyphs">CENTRAL AFRICAN</text>
<text x="610.75" y="951.03" font-size="6.2" fill="#58585a" stroke="#58585a" textLength="30.50" lengthAdjust="spacingAndGlyphs">REPUBLIC</text>
<text x="657" y="940.53" font-size="8.8" fill="#fff" stroke="#fff" textLength="28.00" lengthAdjust="spacingAndGlyphs">SOUTH</text>
<text x="653.75" y="949.28" font-size="8.8" fill="#fff" stroke="#fff" textLength="33.25" lengthAdjust="spacingAndGlyphs">SUDAN</text>
<text x="695" y="938.03" font-size="8.8" fill="#fff" stroke="#fff" textLength="43.75" lengthAdjust="spacingAndGlyphs">ETHIOPIA</text>
<text x="693.75" y="974.28" font-size="8.8" fill="#58585a" stroke="#58585a" textLength="31.25" lengthAdjust="spacingAndGlyphs">KENYA</text>
<text x="793" y="926.03" font-size="8.8" fill="#58585a" stroke="#58585a" textLength="43.25" lengthAdjust="spacingAndGlyphs">DJIBOUTI</text>
<text x="792" y="943.53" font-size="8.8" fill="#58585a" stroke="#58585a" textLength="42.50" lengthAdjust="spacingAndGlyphs">SOMALIA</text>
<text x="797" y="993.03" font-size="8.8" fill="#58585a" stroke="#58585a" textLength="40.50" lengthAdjust="spacingAndGlyphs">UGANDA</text>
<text x="740.75" y="1004.78" font-size="8.8" fill="#58585a" stroke="#58585a" textLength="43.00" lengthAdjust="spacingAndGlyphs">RWANDA</text>
<text x="797" y="1011.78" font-size="8.8" fill="#58585a" stroke="#58585a" textLength="43.75" lengthAdjust="spacingAndGlyphs">BURUNDI</text>
<text x="598.75" y="1001.03" font-size="8.8" fill="#fff" stroke="#fff" textLength="62.50" lengthAdjust="spacingAndGlyphs">DEMOCRATIC</text>
<text x="600" y="1011.03" font-size="8.8" fill="#fff" stroke="#fff" textLength="61.25" lengthAdjust="spacingAndGlyphs">REPUBLIC OF</text>
<text x="602" y="1021.03" font-size="8.8" fill="#fff" stroke="#fff" textLength="55.50" lengthAdjust="spacingAndGlyphs">THE CONGO</text>
<text x="797" y="1033.03" font-size="8.8" fill="#58585a" stroke="#58585a" textLength="47.00" lengthAdjust="spacingAndGlyphs">TANZANIA</text>
<text x="797" y="1054.78" font-size="8.8" fill="#58585a" stroke="#58585a" textLength="38.75" lengthAdjust="spacingAndGlyphs">MALAWI</text>
<text x="797" y="1072.78" font-size="8.8" fill="#58585a" stroke="#58585a" textLength="66.00" lengthAdjust="spacingAndGlyphs">MOZAMBIQUE</text>
<text x="757" y="1091.78" font-size="8.8" fill="#58585a" stroke="#58585a" textLength="66.25" lengthAdjust="spacingAndGlyphs">MADAGASCAR</text>
<text x="754.25" y="1122.03" font-size="8.8" fill="#58585a" stroke="#58585a" textLength="52.00" lengthAdjust="spacingAndGlyphs">ZIMBABWE</text>
<text x="754.25" y="1141.78" font-size="8.8" fill="#58585a" stroke="#58585a" textLength="45.00" lengthAdjust="spacingAndGlyphs">ESWATINI</text>
<text x="754.25" y="1158.78" font-size="8.8" fill="#58585a" stroke="#58585a" textLength="43.25" lengthAdjust="spacingAndGlyphs">LESOTHO</text>
<text x="573.25" y="1078.53" font-size="8.8" fill="#58585a" stroke="#58585a" textLength="39.75" lengthAdjust="spacingAndGlyphs">ANGOLA</text>
<text x="568.75" y="1103.03" font-size="8.8" fill="#58585a" stroke="#58585a" textLength="41.25" lengthAdjust="spacingAndGlyphs">NAMIBIA</text>
<text x="631" y="1073.03" font-size="8.8" fill="#fff" stroke="#fff" textLength="37.00" lengthAdjust="spacingAndGlyphs">ZAMBIA</text>
<text x="629.25" y="718.03" font-size="8.8" fill="#fff" stroke="#fff" textLength="41.50" lengthAdjust="spacingAndGlyphs">UKRAINE</text>
<text x="569.5" y="734.28" font-size="8.8" fill="#58585a" stroke="#58585a" textLength="48.50" lengthAdjust="spacingAndGlyphs">MOLDOVA</text>
<text x="718" y="751.78" font-size="8.8" fill="#58585a" stroke="#58585a" textLength="27.00" lengthAdjust="spacingAndGlyphs">SYRIA</text>
<text x="664.25" y="765.53" font-size="8.8" fill="#58585a" stroke="#58585a" textLength="32.75" lengthAdjust="spacingAndGlyphs">TÜRKIYE</text>
<text x="561.25" y="788.78" font-size="8.8" fill="#58585a" stroke="#58585a" textLength="50.00" lengthAdjust="spacingAndGlyphs">PALESTINE</text>
<text x="607" y="783.78" font-size="8.8" fill="#58585a" stroke="#58585a" textLength="56.00" lengthAdjust="spacingAndGlyphs">WEST BANK</text>
<text x="607" y="793.78" font-size="8.8" fill="#58585a" stroke="#58585a" textLength="54.75" lengthAdjust="spacingAndGlyphs">GAZA STRIP</text>
<text x="710" y="796.03" font-size="8.8" fill="#58585a" stroke="#58585a" textLength="23.00" lengthAdjust="spacingAndGlyphs">IRAQ</text>
<text x="753.75" y="806.03" font-size="8.8" fill="#58585a" stroke="#58585a" textLength="22.50" lengthAdjust="spacingAndGlyphs">IRAN</text>
<text x="650" y="831.03" font-size="8.8" fill="#58585a" stroke="#58585a" textLength="29.50" lengthAdjust="spacingAndGlyphs">EGYPT</text>
<text x="699.5" y="829.78" font-size="8.8" fill="#58585a" stroke="#58585a" textLength="46.00" lengthAdjust="spacingAndGlyphs">LEBANON</text>
<text x="690" y="847.03" font-size="8.8" fill="#58585a" stroke="#58585a" textLength="39.25" lengthAdjust="spacingAndGlyphs">JORDAN</text>
<text x="592.5" y="846.03" font-size="8.8" fill="#fff" stroke="#fff" textLength="26.75" lengthAdjust="spacingAndGlyphs">LIBYA</text>
<text x="507" y="834.03" font-size="8.8" fill="#58585a" stroke="#58585a" textLength="40.00" lengthAdjust="spacingAndGlyphs">ALGERIA</text>
<text x="812" y="751.03" font-size="8.8" fill="#58585a" stroke="#58585a" textLength="67.25" lengthAdjust="spacingAndGlyphs">AFGHANISTAN</text>
<text x="870" y="840.03" font-size="8.8" fill="#58585a" stroke="#58585a" textLength="45.00" lengthAdjust="spacingAndGlyphs">PAKISTAN</text>
<text x="1003.75" y="813.78" font-size="8.8" fill="#58585a" stroke="#58585a" textLength="48.75" lengthAdjust="spacingAndGlyphs">MYANMAR</text>
<text x="911" y="914.78" font-size="8.8" fill="#58585a" stroke="#58585a" textLength="65.00" lengthAdjust="spacingAndGlyphs">BANGLADESH</text>
<text x="884.5" y="969.78" font-size="8.8" fill="#58585a" stroke="#58585a" textLength="49.25" lengthAdjust="spacingAndGlyphs">SRI LANKA</text>
</g>

</svg>
<svg width="1080" height="700" viewBox="0 0 1080 700"><path d="M324.44 308.81A139.2 139.2 0 0 1 447.41 515.91L376.53 476.30A58 58 0 0 0 325.29 390.00Z" fill="#339999" stroke="#fff" stroke-width="1.3" stroke-linejoin="round"/>
<path d="M447.41 515.91A139.2 139.2 0 0 1 373.97 578.64L345.93 502.43A58 58 0 0 0 376.53 476.30Z" fill="#339966" stroke="#fff" stroke-width="1.3" stroke-linejoin="round"/>
<path d="M373.97 578.64A139.2 139.2 0 1 1 324.44 308.81L325.29 390.00A58 58 0 1 0 345.93 502.43Z" fill="#cb2139" stroke="#fff" stroke-width="1.3" stroke-linejoin="round"/></svg>
<div class="t" style="left:148.0px;top:62.8px;font-size:44.5px;font-weight:700;color:#cb2139;letter-spacing:0px;transform:scaleX(1.1338)">At least 266 million people faced</div>
<div class="t" style="left:292.0px;top:114.8px;font-size:44.5px;font-weight:700;color:#cb2139;letter-spacing:0px;transform:scaleX(1.1430)">acute hunger in 2025</div>
<div class="t" style="left:45.0px;top:190.4px;font-size:26.5px;font-weight:400;color:#2f313a;letter-spacing:0px;transform:scaleX(1.0308)">Across 47 countries and territories with food crises, 22.9 percent of the population</div>
<div class="t" style="left:56.0px;top:232.4px;font-size:26.5px;font-weight:400;color:#2f313a;letter-spacing:0px;transform:scaleX(1.0295)">analysed - 266 million people - experienced high levels of acute food  insecurity.</div>
<div class="t" style="left:415.0px;top:301.9px;font-size:34px;font-weight:700;color:#339999;letter-spacing:0px;transform:scaleX(0.9854)">33.1%</div>
<div class="t" style="left:59.4px;top:425.1px;font-size:34px;font-weight:700;color:#cb2139;letter-spacing:0px;transform:scaleX(1.0746)">55.7%</div>
<div class="t" style="left:428.0px;top:554.2px;font-size:34px;font-weight:700;color:#339966;letter-spacing:0px;transform:scaleX(0.9256)">11.3%</div>
<div class="t" style="left:522.5px;top:349.1px;font-size:23px;font-weight:700;color:#111;letter-spacing:0px;transform:scaleX(1.0148)">PRIMARY DRIVERS OF ACUTE</div>
<div class="t" style="left:522.5px;top:373.6px;font-size:23px;font-weight:700;color:#111;letter-spacing:0px;transform:scaleX(1.0136)">FOOD INSECURITY</div>
<div class="t" style="left:525.0px;top:426.5px;font-size:24px;font-weight:700;color:#cb2139;letter-spacing:0px;transform:scaleX(1.0589)">147 million people due conflict</div>
<div class="t" style="left:525.0px;top:466.5px;font-size:24px;font-weight:700;color:#339999;letter-spacing:0px;transform:scaleX(1.0730)">87.5 million people due to climate change</div>
<div class="t" style="left:525.0px;top:508.1px;font-size:24px;font-weight:700;color:#339966;letter-spacing:0px;transform:scaleX(1.0608)">29.8 million people economic shocks</div>
<div class="t" style="left:123.0px;top:648.4px;font-size:23px;font-weight:700;color:#111;letter-spacing:0px;transform:scaleX(1.0401)">NUMBER OF PEOPLE FACING HIGH LEVELS OF ACUTE FOOD INSECURITY</div>
<div class="t" style="left:119.0px;top:1220.3px;font-size:15.5px;font-weight:400;color:#5a5a5c;letter-spacing:0px;transform:scaleX(0.9513)">&lt; 1 million</div>
<div class="t" style="left:219.0px;top:1220.3px;font-size:15.5px;font-weight:400;color:#5a5a5c;letter-spacing:0px;transform:scaleX(0.9514)">1–2.9 million</div>
<div class="t" style="left:333.8px;top:1220.3px;font-size:15.5px;font-weight:400;color:#5a5a5c;letter-spacing:0px;transform:scaleX(0.9950)">3–4.9 million</div>
<div class="t" style="left:451.6px;top:1220.3px;font-size:15.5px;font-weight:400;color:#5a5a5c;letter-spacing:0px;transform:scaleX(0.9744)">5–9.9 million</div>
<div class="t" style="left:566.4px;top:1220.3px;font-size:15.5px;font-weight:400;color:#5a5a5c;letter-spacing:0px;transform:scaleX(0.9295)">10–15 million</div>
<div class="t" style="left:694.4px;top:1220.3px;font-size:15.5px;font-weight:400;color:#5a5a5c;letter-spacing:0px;transform:scaleX(0.9589)">&gt; 15 million</div>
<div class="t" style="left:809.0px;top:1203.3px;font-size:15.5px;font-weight:400;color:#5a5a5c;letter-spacing:0px;transform:scaleX(1.0357)">Country not</div>
<div class="t" style="left:809.0px;top:1220.3px;font-size:15.5px;font-weight:400;color:#5a5a5c;letter-spacing:0px;transform:scaleX(1.0107)">selected for</div>
<div class="t" style="left:809.0px;top:1236.3px;font-size:15.5px;font-weight:400;color:#5a5a5c;letter-spacing:0px;transform:scaleX(0.9536)">analysis</div>
<div class="t" style="left:925.6px;top:1220.3px;font-size:15.5px;font-weight:400;color:#5a5a5c;letter-spacing:0px;transform:scaleX(0.9835)">No data</div>
<div class="t" style="left:276.6px;top:1301.0px;font-size:13px;font-weight:700;color:#666;letter-spacing:1.5px;transform:scaleX(0.9862)">SOURCE: GLOBAL FOOD SECURITY 2026 REPORT   |   APRIL 24 , 2026</div>
<div class="t" style="left:70.5px;top:1300.9px;font-size:13px;font-weight:700;color:#555;letter-spacing:5px;transform:scaleX(0.9479)">AJLABS</div>
<div class="sw" style="left:95.4px;background:#fbcaa2"></div>
<div class="sw" style="left:197.6px;background:#f4a261"></div>
<div class="sw" style="left:311.4px;background:#e8822a"></div>
<div class="sw" style="left:430.4px;background:#c65c28"></div>
<div class="sw" style="left:545.4px;background:#990008"></div>
<div class="sw" style="left:672.4px;background:#4f3033"></div>
<div class="sw" style="left:785.0px;background:#e1e1e1"></div>
<div class="sw" style="left:901.8px;background:#949699"></div>
<svg width="1080" height="1350" viewBox="0 0 1080 1350" style="pointer-events:none">
<!-- CC BY-NC-SA badge -->
<g>
<rect x="988" y="0" width="92" height="15.6" fill="#111"/>
<rect x="989.2" y="0" width="26.5" height="14.2" fill="#aab2ab"/>
<rect x="1015.7" y="0" width="64.3" height="14.2" fill="#000"/>
<circle cx="1002.8" cy="6.6" r="8.2" fill="#000"/>
<circle cx="1002.8" cy="6.6" r="6.5" fill="#fff"/>
<text x="997.3" y="9.8" font-size="9.2" font-weight="700" fill="#000" textLength="11" lengthAdjust="spacingAndGlyphs">cc</text>
<text x="1019" y="11" font-size="9.6" font-weight="700" fill="#fff" textLength="48.2" lengthAdjust="spacingAndGlyphs">BY-NC-SA</text>
</g>
<!-- AJ LABS icon -->
<g fill="none" stroke="#555" stroke-width="4.6" stroke-linecap="round" stroke-linejoin="round">
<path d="M32 1288.3 V1316.2 Q32 1320 35.8 1320 H67.8"/>
<path d="M39.2 1306.8 L49.3 1297 L55.8 1303.2 L65.8 1293.2" stroke-width="4.2"/>
</g>
<!-- Al Jazeera calligraphic mark (approximation) -->
<g transform="translate(965,1222) scale(0.060185)" fill="none" stroke="#555" stroke-linecap="round" stroke-linejoin="round">
<path d="M545 120 Q510 160 518 215 Q530 260 590 315" stroke-width="16"/>
<path d="M560 285 Q600 325 640 375 Q700 450 760 560 Q815 680 825 780 Q815 870 740 920 Q670 950 610 930" stroke-width="38"/>
<path d="M530 300 Q550 380 620 450 Q680 530 705 600 Q720 650 690 700 Q640 740 600 790 Q570 850 562 920 Q580 1000 565 1060 Q535 1105 480 1090 Q440 1060 420 1010" stroke-width="30"/>
<path d="M520 300 Q520 400 490 500 Q450 620 432 720 Q428 820 445 905" stroke-width="22"/>
<path d="M480 440 Q400 500 300 560 Q250 630 242 760 Q265 880 320 955 Q380 990 425 960" stroke-width="28"/>
<path d="M480 470 Q425 560 400 650 Q383 760 390 880 Q398 930 412 955" stroke-width="18"/>
<ellipse cx="318" cy="792" rx="32" ry="56" stroke-width="30"/>
<path d="M720 700 Q685 760 625 815 Q590 860 580 890" stroke-width="34"/>
<path d="M335 645 L362 600 M545 640 L610 570 M620 1000 L652 1042" stroke-width="13"/>
<g fill="#555" stroke="none">
<path d="M630 640 L700 588 L722 622 L702 682 L640 702 L614 680Z"/>
<path d="M465 332 L498 365 L465 398 L432 365Z M425 386 L457 418 L425 450 L393 418Z"/>
<path d="M578 725 L613 760 L578 795 L543 760Z M705 806 L739 840 L705 874 L671 840Z"/>
<path d="M500 912 L533 945 L500 978 L467 945Z M490 978 L522 1010 L490 1042 L458 1010Z"/>
<path d="M470 740 L520 700 L530 740 L490 790Z"/>
</g>
</g>
<!-- ALJAZEERA box -->
<rect x="951.9" y="1295.8" width="90.4" height="22.8" fill="none" stroke="#555" stroke-width="2.2"/>
<text x="956.7" y="1312" font-size="13.8" font-weight="700" fill="#555" stroke="#555" stroke-width="0.5" textLength="80.8" lengthAdjust="spacingAndGlyphs">ALJAZEERA</text>
</svg>

</div></body></html>
